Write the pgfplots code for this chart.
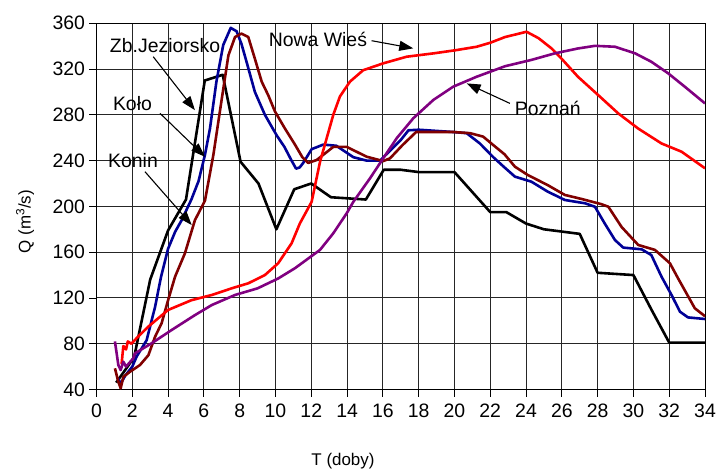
\documentclass[border=0pt]{standalone}
\usepackage{fontspec}
\setmainfont{Liberation Sans}
\usepackage{pgfplots}
\pgfplotsset{compat=1.18}
\usetikzlibrary{arrows.meta}
\definecolor{kolo}{RGB}{0,0,150}
\definecolor{jez}{RGB}{128,0,0}
\definecolor{nowa}{RGB}{255,0,0}
\definecolor{poz}{RGB}{128,0,128}
\begin{document}
\begin{tikzpicture}
\useasboundingbox (-96.5bp,-82.5bp) rectangle (620.5bp,389.5bp);
\begin{axis}[
 at={(0,0)}, anchor=south west,
 scale only axis, width=608.5bp, height=366.2bp,
 xmin=0, xmax=34, ymin=40, ymax=360,
 xtick={0,2,...,34}, ytick={40,80,...,360},
 grid=major, major grid style={black!85, line width=0.9bp},
 axis line style={black, line width=1bp},
 tick align=outside, major tick length=7bp, tick style={black, line width=0.8bp},
 xtick pos=left, ytick pos=left,
 tick label style={font=\fontsize{19.5}{22}\selectfont},
 xticklabel style={yshift=-4bp},
 yticklabel style={xshift=-1bp},
 /pgf/number format/assume math mode=true,
 every axis plot/.append style={line width=2.6bp, line join=round, mark=none},
]
\addplot[black] coordinates {
(1.1,46) (2.1,68) (3.0,136) (4.0,179) (5.0,206) (6.05,310) (7.05,315) (8.05,239)
(9.05,220) (10.05,180) (11.05,215) (12.0,220) (13.1,208) (15.05,206) (16.05,232)
(17,232) (18,230) (20,230) (22,195) (22.9,195) (24,185) (25,180) (26,178) (27,176)
(28,142) (30,140) (31,110) (32,81) (34,81)};
\addplot[kolo] coordinates {
(1.2,50) (1.35,45) (1.6,52) (2.0,60) (2.25,69) (2.8,83) (3.27,112) (3.6,138) (4.0,163)
(4.4,178) (4.76,188) (5.3,206) (5.7,222) (6.06,245) (6.34,268) (6.7,309) (7.08,341)
(7.5,356) (7.83,353) (8.1,342) (8.39,326) (8.85,300) (9.41,280) (10.07,262) (10.5,252)
(10.9,240) (11.15,233) (11.35,234) (11.55,238) (12.02,250) (12.67,254) (13.4,253)
(14.35,243) (15.1,240) (15.84,240) (17,258) (17.43,266.5) (18,267) (19.93,265)
(20.68,264) (21.42,255) (22.17,243) (22.73,235) (23.38,226) (24.3,221.6) (25.2,213)
(26.17,205.6) (27.3,202.7) (27.85,199.7) (28.4,185) (28.97,170.6) (29.43,164)
(30.46,162.5) (31.0,157.5) (31.57,138.6) (32.13,122.6) (32.6,108) (33.05,103) (34,101.6)};
\addplot[jez] coordinates {
(1.03,58.5) (1.2,48) (1.35,41) (1.5,51) (1.87,55.5) (2.43,61.4) (2.9,70) (3.27,86)
(3.64,98) (4.0,118) (4.39,138.6) (4.94,159) (5.5,188) (6.06,205) (6.53,245) (7.0,294)
(7.37,332) (7.74,348) (8.1,351) (8.48,348) (8.85,329) (9.23,309) (9.6,297) (9.97,283)
(10.53,268) (11.09,254) (11.5,243) (11.83,238) (12.3,240.5) (13.23,252) (13.98,252)
(15.1,243.4) (16.02,239.6) (16.4,242) (17.1,253.6) (17.86,265) (19.93,265) (20.87,264)
(21.6,261) (22.17,253.6) (22.8,245.5) (23.38,234.7) (24.1,227.4) (25.2,218.7)
(26.17,210) (27.1,206.5) (28.2,202) (28.6,199.7) (29.34,182) (30.27,166.3) (31.2,162)
(32.04,150.3) (32.5,137) (33.43,111) (34,104)};
\addplot[nowa] coordinates {
(1.4,62) (1.5,78) (1.65,75) (1.75,82) (1.95,80) (2.25,85) (2.9,95) (4.0,109.5)
(5.3,118) (6.44,122.6) (7.55,128.4) (8.48,132.8) (9.41,140) (10.15,150.3) (10.9,167.7)
(11.36,185) (12.02,204) (12.49,239) (12.86,259.5) (13.23,280) (13.6,296) (14.16,309)
(14.9,319) (16.02,325) (17.33,330.8) (18.82,333.7) (20.12,336.6) (21.24,339.5)
(22.0,343) (22.83,348) (24.03,352.6) (24.7,347) (25.43,338) (25.99,329) (26.9,313.3)
(28.03,297.3) (29.15,281.3) (30.27,268) (31.57,255) (32.69,247.8) (34,233.3)};
\addplot[poz] coordinates {
(1.03,82) (1.22,61.4) (1.35,57) (1.5,64.3) (1.65,60) (2.06,67.3) (2.15,71.6)
(3.08,80.4) (4.2,92) (5.5,105) (6.44,113.8) (7.74,122.6) (9.0,128.4) (10.15,137)
(11.09,146) (12.49,162) (13.23,176.5) (13.98,194) (14.35,204) (15.28,224.5)
(16.02,242) (16.77,259.5) (17.7,277) (18.82,293) (19.93,304.6) (21.24,313.3)
(22.83,322.5) (24.3,328) (25.6,333.7) (26.9,338) (27.85,340.3) (28.97,339.5)
(30.1,333.7) (31.0,326.4) (31.94,316.3) (32.87,304.6) (34,290)};
\tikzset{ann/.style={anchor=base, font=\fontsize{19.5}{22}\selectfont},
 arr/.style={line width=1.1bp, -{Triangle[length=14bp,width=10bp]}}}
\node[ann] at (axis cs:3.83,334.9) {Zb.Jeziorsko};
\draw[arr] (axis cs:3.17,330.8) -- (axis cs:5.5,284.1);
\node[ann] at (axis cs:2.01,284.2) {Koło};
\draw[arr] (axis cs:3.55,281.3) -- (axis cs:6.06,243.4);
\node[ann] at (axis cs:2.04,234.4) {Konin};
\draw[arr] (axis cs:2.71,230.3) -- (axis cs:5.32,183.7);
\node[ann] at (axis cs:12.37,339.3) {Nowa Wieś};
\draw[arr] (axis cs:15.37,344.8) -- (axis cs:17.7,338.1);
\node[ann] at (axis cs:25.22,279.8) {Poznań};
\draw[arr] (axis cs:23.1,290) -- (axis cs:20.68,307.5);
\end{axis}
\node[rotate=90, font=\fontsize{17}{20}\selectfont] at (-71.5bp,167.8bp) {Q (m\textsuperscript{3}/s)};
\node[anchor=base, font=\fontsize{17}{20}\selectfont] at (246.5bp,-75.5bp) {T (doby)};
\end{tikzpicture}
\end{document}
